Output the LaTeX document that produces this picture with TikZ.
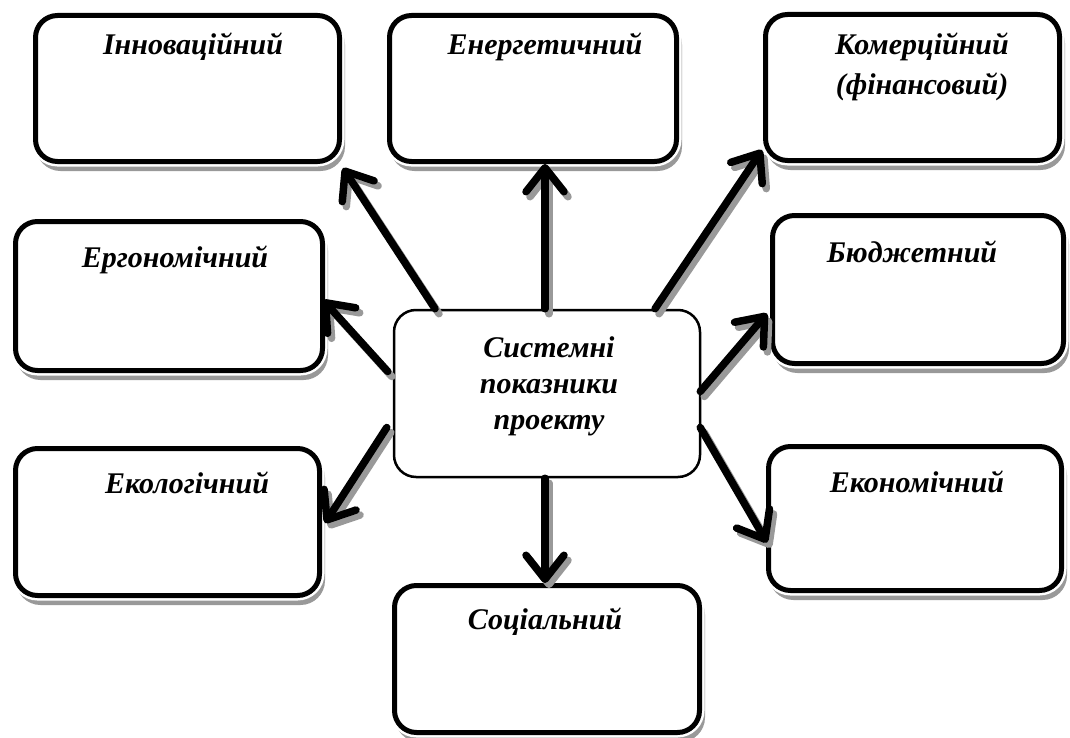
\documentclass[tikz,border=0pt]{standalone}
\usepackage{fontspec}
\setmainfont{Liberation Serif}
\usetikzlibrary{arrows.meta, calc}

\tikzset{
  box/.style={draw, line width=2.5pt, rounded corners=11pt, fill=white,
    preaction={draw=black!40, fill=black!40, line width=2.5pt,
      transform canvas={xshift=1.5pt, yshift=-3.5pt}},
    preaction={draw=white, line width=5pt}},
  mainbox/.style={draw, line width=1.25pt, rounded corners=11pt, fill=white},
  lbl/.style={font=\fontsize{15}{20}\selectfont\bfseries\itshape, align=center},
  arr/.style={line width=3.75pt, line cap=round,
    -{Straight Barb[length=12pt, width=19pt, round]}},
  arrshadow/.style={arr, draw=black!40}
}

\begin{document}
\begin{tikzpicture}[x=0.5pt, y=-0.5pt]

  \useasboundingbox (0,0) rectangle (1070,738);

  % boxes
  \node[box, minimum width=152pt, minimum height=73pt] (inn) at (187.5,88.5) {};
  \node[box, minimum width=143.5pt, minimum height=73pt] (ene) at (533,88.5) {};
  \node[box, minimum width=147pt, minimum height=73pt] (kom) at (912.5,87.5) {};
  \node[box, minimum width=153.5pt, minimum height=74.5pt] (erg) at (169,296) {};
  \node[box, minimum width=145.5pt, minimum height=74pt] (bud) at (918,289.5) {};
  \node[box, minimum width=152pt, minimum height=73.5pt] (ekl) at (167.5,522) {};
  \node[box, minimum width=146.5pt, minimum height=72pt] (eko) at (915,518.5) {};
  \node[box, minimum width=152.5pt, minimum height=73.5pt] (soc) at (547,659) {};
  \node[mainbox, minimum width=153pt, minimum height=83.5pt] (c) at (547,393.5) {};

  % texts
  \node[lbl] (inn-t) at (193,47) {Інноваційний};
  \node[lbl] (ene-t) at (545,47) {Енергетичний};
  \node[lbl] (kom-t) at (922,67) {Комерційний\\(фінансовий)};
  \node[lbl] (erg-t) at (175,260) {Ергономічний};
  \node[lbl] (bud-t) at (912,252) {Бюджетний};
  \node[lbl] (ekl-t) at (187,483) {Екологічний};
  \node[lbl] (eko-t) at (917,482) {Економічний};
  \node[lbl] (soc-t) at (545,622) {Соціальний};
  \node[lbl, font=\fontsize{15}{18}\selectfont\bfseries\itshape] (c-t) at (549,386)
    {Системні\\показники\\проекту};

  % arrow ends
  \coordinate (s1) at ($(c.north)+(-112,0)$);
  \coordinate (t1) at ($(inn.south east)+(1,4)$);
  \coordinate (s2) at ($(c.north)+(-2,0)$);
  \coordinate (t2) at ($(ene.south)+(12,0)$);
  \coordinate (s3) at ($(c.north)+(108,0)$);
  \coordinate (t3) at ($(kom.south west)+(-1,-13)$);
  \coordinate (s4) at ($(c.west)+(-5,-22)$);
  \coordinate (t4) at ($(erg.east)+(-2,4)$);
  \coordinate (s5) at ($(c.east)+(-1,-2)$);
  \coordinate (t5) at ($(bud.west)+(-3,24)$);
  \coordinate (s6) at ($(c.east)+(-1,34)$);
  \coordinate (t6) at ($(eko.west)+(1,24)$);
  \coordinate (s7) at ($(c.west)+(-6,34)$);
  \coordinate (t7) at ($(ekl.east)+(3,1)$);
  \coordinate (s8) at ($(c.south)+(-2,0)$);
  \coordinate (t8) at ($(soc.north)+(-2,0)$);

  % arrows with shadows
  \foreach \i in {1,...,8} {
    \draw[arrshadow] ($(s\i)+(4,5)$) -- ($(t\i)+(4,5)$);
    \draw[arr] (s\i) -- (t\i);
  }

\end{tikzpicture}
\end{document}
